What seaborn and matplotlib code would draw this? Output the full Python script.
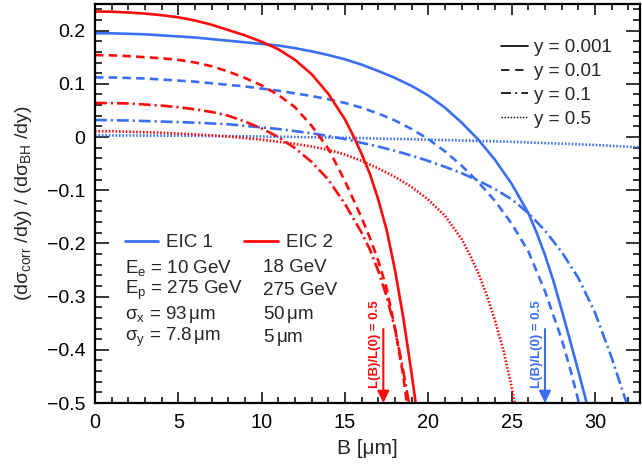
import matplotlib
matplotlib.use("Agg")
import matplotlib.pyplot as plt
from matplotlib.lines import Line2D
from matplotlib.ticker import MultipleLocator
import seaborn as sns
import pandas as pd

# ---------------- data ----------------
# EIC 1 (blue)
B_eic1_y0001 = [0, 1, 2, 3, 4, 5, 6, 7, 8, 9, 10, 11, 12, 13, 14, 15, 16, 17, 18, 19, 20, 21, 22, 23,
                24, 25, 26, 26.5, 27, 27.5, 28, 28.5, 29, 29.5, 30]
R_eic1_y0001 = [0.195, 0.1948, 0.194, 0.193, 0.191, 0.189, 0.187, 0.184, 0.181, 0.178, 0.175, 0.172,
                0.167, 0.161, 0.154, 0.146, 0.136, 0.124, 0.111, 0.096, 0.078, 0.055, 0.027, -0.005,
                -0.043, -0.088, -0.143, -0.180, -0.222, -0.270, -0.325, -0.382, -0.440, -0.500, -0.560]
B_eic1_y001 = [0, 1, 2, 3, 4, 5, 6, 7, 8, 9, 10, 11, 12, 13, 14, 15, 16, 17, 18, 19, 20, 21, 22, 23,
               24, 25, 26, 27, 28, 28.5, 29, 29.5]
R_eic1_y001 = [0.112, 0.1118, 0.111, 0.110, 0.108, 0.106, 0.104, 0.101, 0.098, 0.095, 0.091, 0.087,
               0.082, 0.077, 0.071, 0.064, 0.055, 0.044, 0.031, 0.015, -0.004, -0.027, -0.054, -0.085,
               -0.120, -0.163, -0.215, -0.290, -0.380, -0.435, -0.495, -0.560]
B_eic1_y01 = [0, 2, 4, 6, 8, 10, 11, 12, 13, 14, 15, 16, 17, 18, 19, 20, 21, 22, 23, 24, 25, 26, 27,
              28, 29, 30, 31, 32, 32.5]
R_eic1_y01 = [0.032, 0.031, 0.029, 0.027, 0.024, 0.018, 0.015, 0.011, 0.007, 0.002, -0.004, -0.011,
              -0.018, -0.026, -0.035, -0.045, -0.056, -0.068, -0.082, -0.098, -0.117, -0.143, -0.176,
              -0.216, -0.265, -0.330, -0.415, -0.510, -0.570]
B_eic1_y05 = [0, 5, 10, 15, 20, 25, 30, 33]
R_eic1_y05 = [0.003, 0.0025, 0.001, -0.0015, -0.005, -0.009, -0.015, -0.020]

# EIC 2 (red)
B_eic2_y0001 = [0, 1, 2, 3, 4, 5, 6, 7, 8, 9, 10, 11, 12, 13, 14, 15, 15.5, 16, 16.5, 17, 17.5, 18,
                18.5, 19, 19.5]
R_eic2_y0001 = [0.236, 0.2355, 0.234, 0.232, 0.229, 0.225, 0.219, 0.211, 0.201, 0.191, 0.179, 0.165,
                0.145, 0.118, 0.081, 0.033, 0.002, -0.032, -0.070, -0.118, -0.175, -0.250, -0.340,
                -0.445, -0.560]
B_eic2_y001 = [0, 1, 2, 3, 4, 5, 6, 7, 8, 9, 10, 11, 12, 13, 14, 15, 16, 16.5, 17, 17.5, 18, 18.5, 19]
R_eic2_y001 = [0.154, 0.1535, 0.152, 0.150, 0.148, 0.145, 0.140, 0.133, 0.123, 0.111, 0.097, 0.079,
               0.056, 0.021, -0.022, -0.083, -0.152, -0.190, -0.233, -0.285, -0.360, -0.450, -0.570]
B_eic2_y01 = [0, 1, 2, 3, 4, 5, 6, 7, 8, 9, 10, 11, 12, 13, 14, 15, 16, 16.5, 17, 17.5, 18, 18.5, 19]
R_eic2_y01 = [0.064, 0.0637, 0.063, 0.061, 0.059, 0.056, 0.052, 0.047, 0.040, 0.029, 0.016, 0.000,
              -0.021, -0.047, -0.080, -0.126, -0.180, -0.212, -0.252, -0.300, -0.360, -0.440, -0.530]
B_eic2_y05 = [0, 1, 2, 3, 4, 5, 6, 7, 8, 9, 10, 11, 12, 13, 14, 15, 16, 17, 18, 19, 20, 21, 22, 22.5,
              23, 23.5, 24, 24.5, 25, 25.3]
R_eic2_y05 = [0.011, 0.0108, 0.010, 0.009, 0.008, 0.0065, 0.005, 0.003, 0.001, -0.002, -0.005, -0.009,
              -0.013, -0.018, -0.024, -0.033, -0.045, -0.059, -0.075, -0.094, -0.118, -0.148, -0.192,
              -0.222, -0.256, -0.297, -0.345, -0.400, -0.470, -0.520]

machines = ["EIC 1", "EIC 2"]
y_values = ["0.001", "0.01", "0.1", "0.5"]
half_lumi_B = {"EIC 1": 27.0, "EIC 2": 17.3}

params_eic1 = ["E$_{\\rm e}$ = 10 GeV", "E$_{\\rm p}$ = 275 GeV",
               "σ$_{\\rm x}$ = 93$\\,$μm", "σ$_{\\rm y}$ = 7.8$\\,$μm"]
params_eic2 = ["18 GeV", "275 GeV", "50$\\,$μm", "5$\\,$μm"]

x_ticks = [0, 5, 10, 15, 20, 25, 30]
y_ticks = [-0.5, -0.4, -0.3, -0.2, -0.1, 0, 0.1, 0.2]
y_tick_labels = ["−0.5", "−0.4", "−0.3", "−0.2", "−0.1", "0", "0.1", "0.2"]

curves = {
    ("EIC 1", "0.001"): (B_eic1_y0001, R_eic1_y0001),
    ("EIC 1", "0.01"): (B_eic1_y001, R_eic1_y001),
    ("EIC 1", "0.1"): (B_eic1_y01, R_eic1_y01),
    ("EIC 1", "0.5"): (B_eic1_y05, R_eic1_y05),
    ("EIC 2", "0.001"): (B_eic2_y0001, R_eic2_y0001),
    ("EIC 2", "0.01"): (B_eic2_y001, R_eic2_y001),
    ("EIC 2", "0.1"): (B_eic2_y01, R_eic2_y01),
    ("EIC 2", "0.5"): (B_eic2_y05, R_eic2_y05),
}
rows = []
for (m, yv), (bs, rs) in curves.items():
    for b, r in zip(bs, rs):
        rows.append({"machine": m, "yval": yv, "B": b, "ratio": r})
df = pd.DataFrame(rows)

# ---------------- style ----------------
sns.set_theme(style="ticks")
plt.rcParams["font.family"] = ["Liberation Sans", "DejaVu Sans"]
plt.rcParams["mathtext.fontset"] = "custom"
plt.rcParams["mathtext.rm"] = "Liberation Sans"
plt.rcParams["mathtext.it"] = "Liberation Sans:italic"
plt.rcParams["mathtext.bf"] = "Liberation Sans:bold"

BLUE = "#3b6ff3"
RED = "#ff0a0a"
palette = {"EIC 1": BLUE, "EIC 2": RED}
dashes = {"0.001": "", "0.01": (3.2, 2.0), "0.1": (4.5, 1.5, 0.8, 1.5), "0.5": (0.6, 0.7)}

fig = plt.figure(figsize=(6.42, 4.68), dpi=100)
ax = fig.add_axes([95 / 642, 1 - 403 / 468, 545 / 642, 399 / 468])

sns.lineplot(data=df, x="B", y="ratio", hue="machine", style="yval",
             palette=palette, dashes=dashes, estimator=None, sort=False,
             legend=False, linewidth=1.9, ax=ax)

ax.set_xlim(0, 32.7)
ax.set_ylim(-0.5, 0.25)
ax.set_xticks(x_ticks)
ax.set_xticklabels([str(t) for t in x_ticks])
ax.set_yticks(y_ticks)
ax.set_yticklabels(y_tick_labels)
ax.xaxis.set_minor_locator(MultipleLocator(1))
ax.yaxis.set_minor_locator(MultipleLocator(0.02))

for s in ax.spines.values():
    s.set_linewidth(1.6)
    s.set_color("black")
ax.tick_params(axis="both", which="both", direction="in", top=True, right=True,
               colors="black", width=1.1)
ax.tick_params(axis="x", which="major", length=8, pad=7, labelsize=14.3)
ax.tick_params(axis="x", which="minor", length=4.3)
ax.tick_params(axis="y", which="major", length=10, pad=7, labelsize=14)
ax.tick_params(axis="y", which="minor", length=5)

ax.set_xlabel("B [μm]", fontsize=15, labelpad=5)
ax.set_ylabel("(dσ$_{\\rm corr}$ /dy) / (dσ$_{\\rm BH}$ /dy)", fontsize=14, labelpad=9)

# luminosity-halving arrows
for m in machines:
    b = half_lumi_B[m]
    col = palette[m]
    ax.annotate("", xy=(b, -0.5), xytext=(b, -0.361),
                arrowprops=dict(arrowstyle="-|>,head_length=0.6,head_width=0.3",
                                color=col, lw=1.5, shrinkA=0, shrinkB=0))
    ax.text(b - 0.12, -0.39, "L(B)/L(0) = 0.5", rotation=90, color=col,
            fontsize=9.5, fontweight="bold", ha="right", va="center")

# legend for y values
style_handles = [
    Line2D([], [], color="black", lw=1.2, linestyle="-"),
    Line2D([], [], color="black", lw=1.2, dashes=(5, 3.5)),
    Line2D([], [], color="black", lw=1.2, dashes=(6, 2.5, 1.2, 2.5)),
    Line2D([], [], color="black", lw=1.0, dashes=(1, 1.2)),
]
leg1 = ax.legend(style_handles, [f"y = {v}" for v in y_values], loc="upper left",
                 bbox_to_anchor=(0.745, 0.912), frameon=False, fontsize=13.5,
                 handlelength=1.45, handletextpad=0.32, labelspacing=0.36,
                 borderpad=0, borderaxespad=0)
ax.add_artist(leg1)

machine_handles = [Line2D([], [], color=palette[m], lw=2.0) for m in machines]
ax.legend(machine_handles, machines, loc="upper left", bbox_to_anchor=(0.055, 0.423),
          ncol=2, frameon=False, fontsize=13.5, handlelength=1.78, handletextpad=0.43,
          columnspacing=1.65, borderpad=0, borderaxespad=0)

row_y = [0.339, 0.283, 0.222, 0.165]
for ty, t1, t2 in zip(row_y, params_eic1, params_eic2):
    ax.text(0.055, ty, t1, transform=ax.transAxes, fontsize=13.5, va="center", ha="left")
    ax.text(0.308, ty, t2, transform=ax.transAxes, fontsize=13.5, va="center", ha="left")

fig.savefig("out.png", dpi=100)
